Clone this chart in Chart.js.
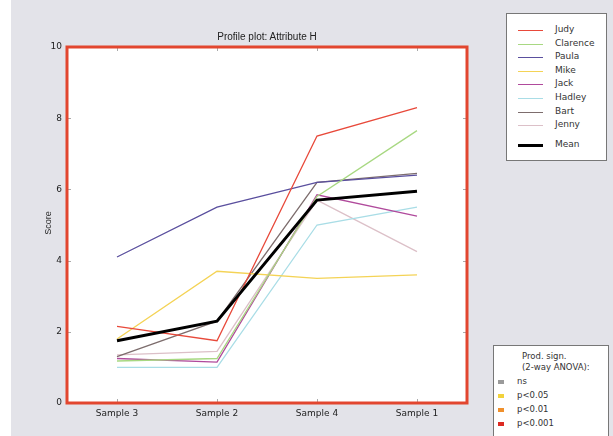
<!DOCTYPE html>
<html>
<head>
<meta charset="utf-8">
<script src="https://cdn.jsdelivr.net/npm/chart.js@4.4.1/dist/chart.umd.min.js"></script>
<style>
  body { margin: 0; background: #fff; }
  #wrap { position: relative; width: 613px; height: 436px; overflow: hidden;
          background: linear-gradient(to right, #fff 0, #fff 11px, #e3e3e9 11px); }
  #chart { position: absolute; left: 0; top: 0; }
  .txt { position: absolute; font-family: "DejaVu Sans", sans-serif; font-size: 9px; color: #222; white-space: nowrap; }
  #title { left: 167px; width: 200px; top: 31px; text-align: center; font-family: "Liberation Sans Narrow", "Liberation Sans", sans-serif; font-size: 10px; }
  #ylab { left: 30px; top: 218px; width: 36px; text-align: center; transform: rotate(-90deg); font-family: "Liberation Sans Narrow", "Liberation Sans", sans-serif; }
  .box { position: absolute; background: #fff; border: 1px solid #777; }
  #leg1 { left: 506px; top: 13px; width: 99px; height: 146px; }
  #leg2 { left: 493px; top: 345px; width: 114px; height: 100px; }
  .row { position: absolute; left: 0; height: 12px; }
  .row .ln { position: absolute; top: 5px; left: 11px; width: 25px; }
  .row .lb { position: absolute; left: 48px; top: -1px; font-family: "DejaVu Sans", sans-serif; font-size: 9px; color: #333; }
  .sq { position: absolute; left: 4px; top: 3px; width: 6px; height: 4px; }
  .sl { position: absolute; left: 23px; top: -1px; font-family: "DejaVu Sans", sans-serif; font-size: 8.5px; color: #333; }
</style>
</head>
<body>
<div id="wrap">
  <canvas id="chart" width="613" height="436"></canvas>
  <div class="txt" id="title">Profile plot: Attribute H</div>
  <div class="txt" id="ylab">Score</div>
  <div class="box" id="leg1"></div>
  <div class="box" id="leg2">
    <div class="txt" style="left:28px;top:5px;color:#333;font-size:8.5px;">Prod. sign.</div>
    <div class="txt" style="left:28px;top:16px;color:#333;font-size:8.5px;">(2-way ANOVA):</div>
  </div>
</div>
<script>
// Datos
const samples = ['Sample 3', 'Sample 2', 'Sample 4', 'Sample 1'];
const panelists = ['Judy', 'Clarence', 'Paula', 'Mike', 'Jack', 'Hadley', 'Bart', 'Jenny'];
const judy     = [2.15, 1.75, 7.5, 8.3];
const clarence = [1.18, 1.25, 5.8, 7.65];
const paula    = [4.1, 5.5, 6.2, 6.4];
const mike     = [1.8, 3.7, 3.5, 3.6];
const jack     = [1.25, 1.15, 5.85, 5.25];
const hadley   = [1.0, 1.0, 5.0, 5.5];
const bart     = [1.3, 2.3, 6.2, 6.45];
const jenny    = [1.35, 1.45, 5.7, 4.25];
const mean     = [1.75, 2.3, 5.7, 5.95];
const yTicks = [0, 2, 4, 6, 8, 10];
const signLabels = ['ns', 'p<0.05', 'p<0.01', 'p<0.001'];

const series = [judy, clarence, paula, mike, jack, hadley, bart, jenny];
const colors = ['#e8493a', '#a8d882', '#5a4f9e', '#f4d356', '#b04a9c', '#a9dde6', '#7d6d6d', '#dcc0c8'];
const signColors = ['#9a9a9a', '#f2d23c', '#f0902c', '#dc2a22'];

let datasets = series.map((vals, i) => ({
    label: panelists[i],
    data: vals,
    borderColor: colors[i],
    borderWidth: 1.3,
    pointRadius: 0,
    tension: 0,
    order: i + 1
}));
datasets.push({
    label: 'Mean',
    data: mean,
    borderColor: '#000',
    borderWidth: 3,
    pointRadius: 0,
    tension: 0,
    order: 0
});

// fondo blanco, borde rojo y marcas interiores
const frame = {
    id: 'frame',
    beforeDraw(chart) {
        const a = chart.chartArea, c = chart.ctx;
        c.save();
        c.fillStyle = '#fff';
        c.fillRect(a.left, a.top, a.right - a.left, a.bottom - a.top);
        c.restore();
    },
    afterDraw(chart) {
        const a = chart.chartArea, c = chart.ctx;
        const x = chart.scales.x, y = chart.scales.y;
        c.save();
        c.strokeStyle = '#aaa';
        c.lineWidth = 1;
        c.beginPath();
        yTicks.forEach(v => {
            const py = Math.round(y.getPixelForValue(v)) + 0.5;
            c.moveTo(a.left, py); c.lineTo(a.left + 4, py);
            c.moveTo(a.right, py); c.lineTo(a.right - 4, py);
        });
        samples.forEach((s, i) => {
            const px = Math.round(x.getPixelForValue(i)) + 0.5;
            c.moveTo(px, a.top); c.lineTo(px, a.top + 4);
            c.moveTo(px, a.bottom); c.lineTo(px, a.bottom - 4);
        });
        c.stroke();
        c.strokeStyle = '#e2462f';
        c.lineWidth = 3;
        c.strokeRect(a.left, a.top, a.right - a.left, a.bottom - a.top);
        c.restore();
    }
};

new Chart(document.getElementById('chart').getContext('2d'), {
    type: 'line',
    data: { labels: samples, datasets: datasets },
    plugins: [frame],
    options: {
        responsive: false,
        animation: false,
        devicePixelRatio: 1,
        layout: { padding: { top: 47, right: 146, left: 0, bottom: 0 } },
        plugins: { legend: { display: false }, title: { display: false }, tooltip: { enabled: false } },
        scales: {
            x: {
                offset: true,
                grid: { display: false, drawTicks: false },
                border: { display: false },
                ticks: { padding: 5, color: '#222', font: { family: 'DejaVu Sans', size: 9 } },
                afterFit: s => { s.height = 33; }
            },
            y: {
                min: 0,
                max: 10,
                grid: { display: false, drawTicks: false },
                border: { display: false },
                afterBuildTicks: s => { s.ticks = yTicks.map(v => ({ value: v })); },
                ticks: { padding: 5, color: '#222', font: { family: 'DejaVu Sans', size: 9 } },
                afterFit: s => { s.width = 67; }
            }
        }
    }
});

// leyendas
const leg1 = document.getElementById('leg1');
panelists.concat(['Mean']).forEach((name, i) => {
    const row = document.createElement('div');
    row.className = 'row';
    row.style.top = (i < 8 ? 11 + i * 13.6 : 126) + 'px';
    const ln = document.createElement('div');
    ln.className = 'ln';
    const isMean = i === 8;
    ln.style.borderTop = (isMean ? 3 : 1) + 'px solid ' + (isMean ? '#000' : colors[i]);
    if (isMean) ln.style.top = '4px';
    const lb = document.createElement('div');
    lb.className = 'lb';
    lb.textContent = name;
    row.appendChild(ln);
    row.appendChild(lb);
    leg1.appendChild(row);
});
const leg2 = document.getElementById('leg2');
signLabels.forEach((s, i) => {
    const row = document.createElement('div');
    row.className = 'row';
    row.style.top = (31 + i * 14) + 'px';
    const sq = document.createElement('div');
    sq.className = 'sq';
    sq.style.background = signColors[i];
    const lb = document.createElement('div');
    lb.className = 'sl';
    lb.textContent = s;
    row.appendChild(sq);
    row.appendChild(lb);
    leg2.appendChild(row);
});
</script>
</body>
</html>
